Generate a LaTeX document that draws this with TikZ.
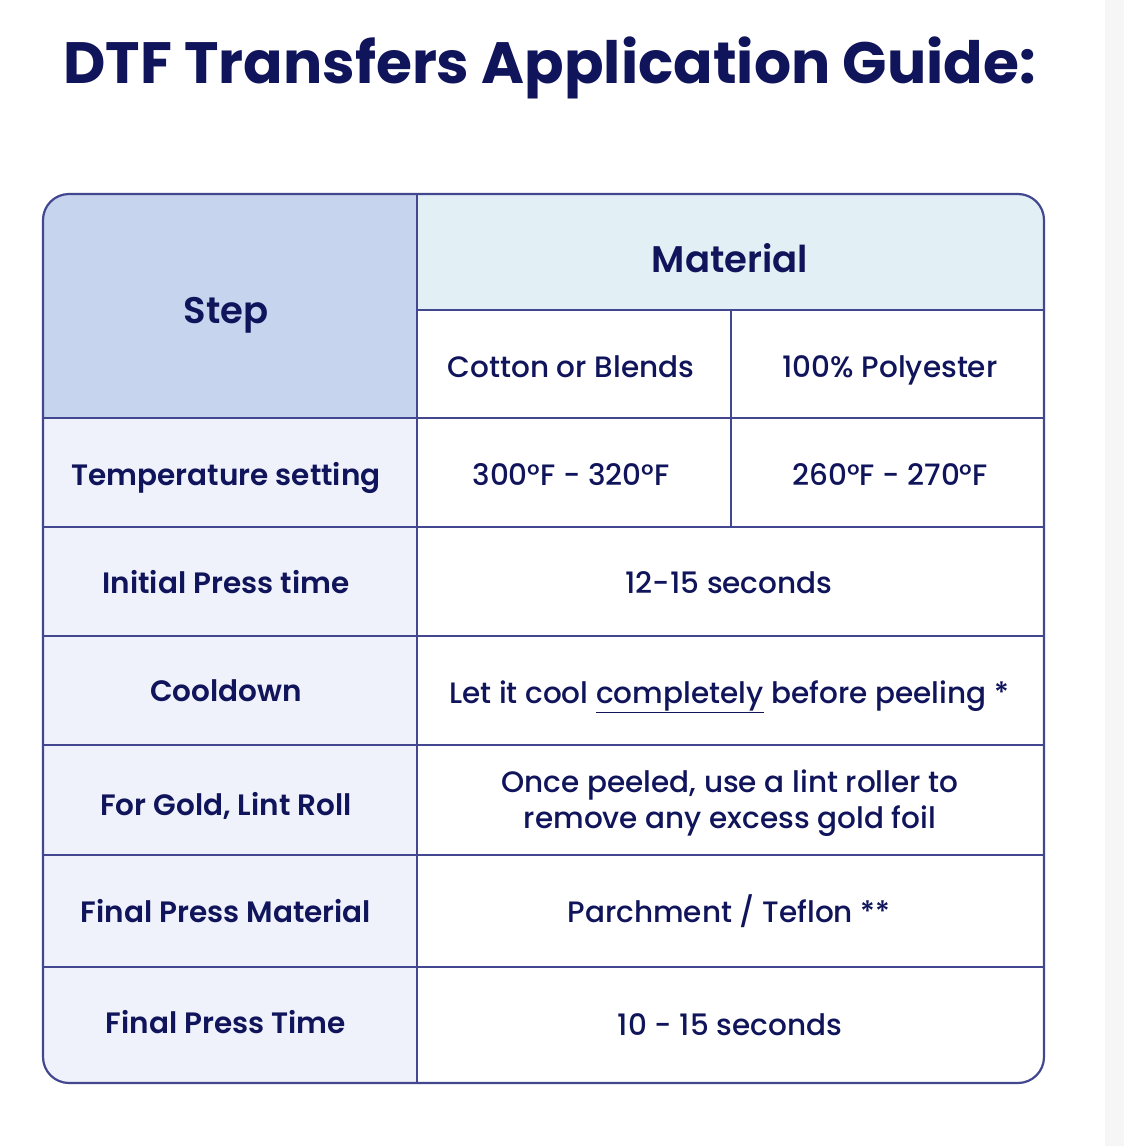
\documentclass[tikz,border=0pt]{standalone}
\usepackage{fontspec}
\setmainfont{Poppins}
\newfontfamily\pmed{Poppins Medium}
\newfontfamily\psemi{Poppins SemiBold}
\definecolor{ink}{HTML}{10145A}
\definecolor{rule}{HTML}{43478F}
\definecolor{stepfill}{HTML}{C6D4EE}
\definecolor{matfill}{HTML}{E2F0F6}
\definecolor{colfill}{HTML}{EFF2FA}
\definecolor{strip}{HTML}{F6F6F6}
\tikzset{
  lbl/.style={anchor=base, text=ink, inner sep=0pt, font=\psemi\fontsize{29.5}{35}\selectfont},
  val/.style={anchor=base, text=ink, inner sep=0pt, font=\pmed\fontsize{29.5}{35}\selectfont, align=center},
  hdr/.style={anchor=base, text=ink, inner sep=0pt, font=\psemi\fontsize{37}{44}\selectfont},
  grid/.style={draw=rule, line width=2.2pt},
}
\begin{document}
\begin{tikzpicture}[x=1pt,y=-1pt]
\useasboundingbox (0,0) rectangle (1124,1146);
\fill[white] (0,0) rectangle (1124,1146);
\fill[strip] (1105,0) rectangle (1124,1146);
% title
\node[anchor=base west, text=ink, inner sep=0pt, font=\bfseries\fontsize{58.3}{66}\selectfont] (title) at (63,83) {DTF Transfers Application Guide:};
% fills
\begin{scope}
\clip[rounded corners=26pt] (43,194) rectangle (1044,1083);
\fill[stepfill] (43,194) rectangle (417,418);
\fill[matfill] (417,194) rectangle (1044,310);
\fill[colfill] (43,418) rectangle (417,1083);
\end{scope}
% grid lines
\draw[grid] (417,194) -- (417,1083);
\draw[grid] (731,310) -- (731,527);
\draw[grid] (417,310) -- (1044,310);
\foreach \yy in {418,527,636,745,855,967} \draw[grid] (43,\yy) -- (1044,\yy);
\draw[grid, rounded corners=26pt] (43,194) rectangle (1044,1083);
% headers
\node[hdr] (step) at (226,323) {Step};
\node[hdr] (mat) at (730,272) {Material};
\node[val] (cot) at (571,377) {Cotton or Blends};
\node[val] (poly) at (890,377) {100\% Polyester};
% rows
\node[lbl] (r1) at (226,485) {Temperature setting};
\node[val] (r1a) at (571,485) {300°F - 320°F};
\node[val] (r1b) at (890,485) {260°F - 270°F};
\node[lbl] (r2) at (226,593) {Initial Press time};
\node[val] (r2a) at (729,593) {12-15 seconds};
\node[lbl] (r3) at (226,701) {Cooldown};
\node[val] (r3a) at (729,703) {Let it cool \underline{completely} before peeling *};
\node[lbl] (r4) at (226,815) {For Gold, Lint Roll};
\node[val] (r4a) at (730,792) {Once peeled, use a lint roller to};
\node[val] (r4b) at (730,828) {remove any excess gold foil};
\node[lbl] (r5) at (226,922) {Final Press Material};
\node[val] (r5a) at (729,922) {Parchment / Teflon **};
\node[lbl] (r6) at (226,1033) {Final Press Time};
\node[val] (r6a) at (730,1035) {10 - 15 seconds};
\end{tikzpicture}
\end{document}
